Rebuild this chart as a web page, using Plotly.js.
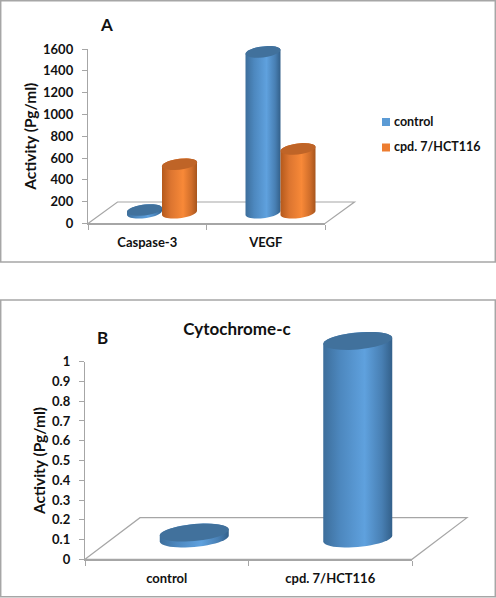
<!DOCTYPE html>
<html><head><meta charset="utf-8">
<script src="https://cdn.plot.ly/plotly-3.0.1.min.js"></script>
<style>html,body{margin:0;padding:0;background:#fff}</style></head>
<body><div id="chart" style="width:496px;height:598px"></div>
<script>
// ---- data ----
const categoriesA = ['Caspase-3', 'VEGF'];
const controlA = [25, 1475];
const cpdA = [445, 585];
const categoriesB = ['control', 'cpd. 7/HCT116'];
const cytochromeB = [0.03, 1.0];
const seriesNames = ['control', 'cpd. 7/HCT116'];

// ---- layout constants (pixels) ----
const W = 496, H = 598;
const FONT = 'Lato, "Open Sans", sans-serif';
const GRAY = '#a6a6a6';
const BLUE = '#5b9bd5', ORANGE = '#ed7d31';
const BLUECAP = '#41719c', ORANGECAP = '#bf6427';
const panelA = {l: 88, r: 325, t: 49, b: 223.5, dx: 29.5, dy: 21.5, max: 1600, barPx: 35, capB: 5.5, capS: 2};
const panelB = {l: 85, r: 412, t: 361.7, b: 559.3, dx: 55, dy: 41.6, max: 1, barPx: 69, capB: 8.5, capS: 3};
const CLEAR = 16; // room around the hidden bar axes so the cylinder ends are not clipped

const px2x = v => v / W, px2y = v => 1 - v / H;
const inset = 0.9; // bar sits inside the cylinder outline

function ellipsePts(cx, val, P, t0, t1) {
  const catW = (P.r - P.l) / 2, perVal = (P.b - P.t) / P.max, a = P.barPx / 2, pts = [];
  for (let i = 0; i <= 24; i++) {
    const t = t0 + (t1 - t0) * i / 24;
    pts.push([cx + a * Math.cos(t) / catW, val + (P.capB * Math.sin(t) + P.capS * Math.cos(t)) / perVal]);
  }
  return pts;
}
const toPath = pts => 'M' + pts.map(p => p[0].toFixed(4) + ',' + p[1].toFixed(5)).join('L') + 'Z';

function cylinderShapes(cx, val, P, xr, yr, bodyColor, capColor) {
  const body = ellipsePts(cx, val, P, Math.PI, 0).concat(ellipsePts(cx, 0, P, 0, -Math.PI));
  const cap = ellipsePts(cx, val, P, 0, 2 * Math.PI);
  return [
    {type: 'path', xref: xr, yref: yr, layer: 'below', path: toPath(body), fillcolor: bodyColor, line: {width: 0}},
    {type: 'path', xref: xr, yref: yr, layer: 'above', path: toPath(cap), fillcolor: capColor, line: {width: 0}}
  ];
}
function floorShape(P) {
  const path = 'M' + px2x(P.l) + ',' + px2y(P.b) + 'L' + px2x(P.l + P.dx) + ',' + px2y(P.b - P.dy) +
    'L' + px2x(P.r + P.dx) + ',' + px2y(P.b - P.dy) + 'L' + px2x(P.r) + ',' + px2y(P.b) + 'Z';
  return {type: 'path', xref: 'paper', yref: 'paper', layer: 'below', path, fillcolor: '#fff', line: {color: GRAY, width: 1.2}};
}
function frame(y0, y1) {
  return {type: 'rect', xref: 'paper', yref: 'paper', layer: 'below', x0: px2x(0.7), x1: px2x(495.3), y0: px2y(y1), y1: px2y(y0),
    fillcolor: 'rgba(0,0,0,0)', line: {color: GRAY, width: 1.5}};
}

const catWA = (panelA.r - panelA.l) / 2, catWB = (panelB.r - panelB.l) / 2;
const wA = panelA.barPx / catWA, wB = panelB.barPx / catWB;
const pad = (1 - inset) / 2;

const traces = [
  {type: 'scatter', x: categoriesA, y: [null, null], xaxis: 'x', yaxis: 'y', hoverinfo: 'skip', showlegend: false},
  {type: 'bar', name: seriesNames[0], x: categoriesA, y: controlA, xaxis: 'x2', yaxis: 'y2', width: wA * inset, offset: -wA * (1 - pad), marker: {color: BLUE}, showlegend: false},
  {type: 'bar', name: seriesNames[1], x: categoriesA, y: cpdA, xaxis: 'x2', yaxis: 'y2', width: wA * inset, offset: wA * pad, marker: {color: ORANGE}, showlegend: false},
  {type: 'scatter', x: categoriesB, y: [null, null], xaxis: 'x3', yaxis: 'y3', hoverinfo: 'skip', showlegend: false},
  {type: 'bar', name: 'Cytochrome-c', x: categoriesB, y: cytochromeB, xaxis: 'x4', yaxis: 'y4', width: wB * inset, offset: -wB * inset / 2, marker: {color: BLUE}, showlegend: false}
];

const shapes = [frame(0.7, 262), frame(300, 596.7), floorShape(panelA), floorShape(panelB)];
controlA.forEach((v, i) => shapes.push(...cylinderShapes(i - wA / 2, v, panelA, 'x2', 'y2', BLUE, BLUECAP)));
cpdA.forEach((v, i) => shapes.push(...cylinderShapes(i + wA / 2, v, panelA, 'x2', 'y2', ORANGE, ORANGECAP)));
cytochromeB.forEach((v, i) => shapes.push(...cylinderShapes(i, v, panelB, 'x4', 'y4', BLUE, BLUECAP)));
// legend swatches
[[BLUE, 122], [ORANGE, 147.5]].forEach(s => shapes.push({type: 'rect', xref: 'paper', yref: 'paper', layer: 'above',
  x0: px2x(382), x1: px2x(390), y0: px2y(s[1] + 4), y1: px2y(s[1] - 4), fillcolor: s[0], line: {width: 0}}));

const textFont = (sz, bold) => ({family: FONT, size: sz, color: '#111', weight: bold ? 'bold' : 'normal'});
function xAxis(P, cats, anchor) {
  return {domain: [px2x(P.l), px2x(P.r)], anchor, type: 'category', categoryorder: 'array', categoryarray: cats, range: [-0.5, 1.5],
    showgrid: false, zeroline: false, showline: true, linecolor: GRAY, linewidth: 1.2, ticks: 'outside', ticklen: 5, tickcolor: GRAY, tickwidth: 1,
    tickson: 'boundaries', ticklabelstandoff: 7, tickfont: textFont(13, true), fixedrange: true};
}
function yAxis(P, anchor, dtick, titleStandoff) {
  return {domain: [px2y(P.b), px2y(P.t)], anchor, range: [0, P.max], dtick,
    showgrid: false, zeroline: false, showline: true, linecolor: GRAY, linewidth: 1.2, ticks: 'outside', ticklen: 5, tickcolor: GRAY, tickwidth: 1,
    ticklabelstandoff: 6, tickfont: textFont(13, true), fixedrange: true,
    title: {text: '<b>Activity (Pg/ml)</b>', font: textFont(15.5), standoff: titleStandoff}};
}
function hiddenX(P, cats, anchor) {
  return {domain: [px2x(P.l + P.dx / 2), px2x(P.r + P.dx / 2)], anchor, type: 'category', categoryorder: 'array', categoryarray: cats, range: [-0.5, 1.5], visible: false, fixedrange: true};
}
function hiddenY(P, anchor) {
  const perPx = P.max / (P.b - P.t);
  return {domain: [px2y(P.b - P.dy / 2 + CLEAR), px2y(P.t - P.dy / 2 - CLEAR)], anchor, range: [-CLEAR * perPx, P.max + CLEAR * perPx], visible: false, fixedrange: true};
}
const ann = (txt, x, y, sz, xa) => ({text: '<b>' + txt + '</b>', xref: 'paper', yref: 'paper', x: px2x(x), y: px2y(y), xanchor: xa || 'center', yanchor: 'middle', showarrow: false, font: textFont(sz)});

const layout = {
  width: W, height: H, margin: {l: 0, r: 0, t: 0, b: 0, pad: 0}, autosize: false,
  paper_bgcolor: '#fff', plot_bgcolor: 'rgba(0,0,0,0)', barmode: 'overlay', showlegend: false, font: textFont(13),
  title: {text: '<b>Cytochrome-c</b>', font: textFont(17), x: 237 / W, xref: 'paper', xanchor: 'center', y: px2y(329), yref: 'paper', yanchor: 'middle'},
  xaxis: xAxis(panelA, categoriesA, 'y'), yaxis: yAxis(panelA, 'x', 200, 2),
  xaxis2: hiddenX(panelA, categoriesA, 'y2'), yaxis2: hiddenY(panelA, 'x2'),
  xaxis3: xAxis(panelB, categoriesB, 'y3'), yaxis3: yAxis(panelB, 'x3', 0.1, 2),
  xaxis4: hiddenX(panelB, categoriesB, 'y4'), yaxis4: hiddenY(panelB, 'x4'),
  shapes,
  annotations: [
    ann('A', 106, 25, 17), ann('B', 102, 337, 17),
    ann(seriesNames[0], 392, 121.5, 12.5, 'left'), ann(seriesNames[1], 392, 147, 12.5, 'left')
  ]
};

Plotly.newPlot('chart', traces, layout, {staticPlot: true, displayModeBar: false}).then(gd => {
  // cylinder shading: horizontal gradients applied to the rendered marks
  const svg = gd.querySelector('.main-svg');
  const NS = 'http://www.w3.org/2000/svg';
  let defs = svg.querySelector('defs');
  const ramps = {
    Blue: [[0, '#3d6e9b'], [0.25, '#4d88bf'], [0.6, '#5fa1de'], [0.85, '#487fb3'], [1, '#33608a']],
    Orange: [[0, '#b4591c'], [0.25, '#dc7530'], [0.6, '#f88938'], [0.85, '#cf6d2a'], [1, '#a7551d']]
  };
  const makeGrad = (id, ramp, x1, x2) => {
    const g = document.createElementNS(NS, 'linearGradient');
    g.setAttribute('id', id); g.setAttribute('x1', x1); g.setAttribute('x2', x2); g.setAttribute('y1', 0); g.setAttribute('y2', 0);
    ramp.forEach(r => { const s = document.createElementNS(NS, 'stop'); s.setAttribute('offset', r[0]); s.setAttribute('stop-color', r[1]); g.appendChild(s); });
    defs.appendChild(g);
  };
  const over = pad / inset;
  Object.keys(ramps).forEach(k => { makeGrad('g' + k, ramps[k], 0, 1); makeGrad('gb' + k, ramps[k], -over, 1 + over); });
  const isBlue = f => f.replace(/\s/g, '') === 'rgb(91,155,213)', isOrange = f => f.replace(/\s/g, '') === 'rgb(237,125,49)';
  gd.querySelectorAll('.shapelayer path').forEach(p => {
    const b = p.getBBox();
    if (b.width < 12) return; // legend swatches keep their flat colour
    if (isBlue(p.style.fill)) p.style.fill = 'url(#gBlue)';
    else if (isOrange(p.style.fill)) p.style.fill = 'url(#gOrange)';
  });
  gd.querySelectorAll('.barlayer .point path').forEach(p => {
    if (isBlue(p.style.fill)) p.style.fill = 'url(#gbBlue)';
    else if (isOrange(p.style.fill)) p.style.fill = 'url(#gbOrange)';
  });
});
</script></body></html>
